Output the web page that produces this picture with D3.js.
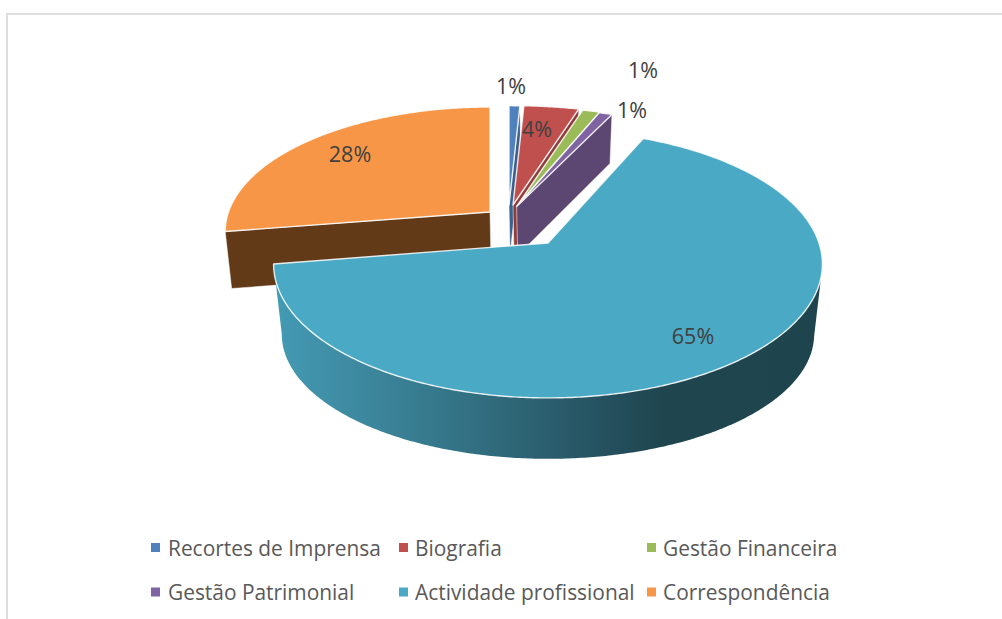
<!DOCTYPE html>
<html><head><meta charset="utf-8">
<script src="https://cdn.jsdelivr.net/npm/d3@7/dist/d3.min.js"></script>
<style>html,body{margin:0;padding:0;background:#fff}svg{display:block}</style>
</head><body><svg id="c" width="1002" height="619"></svg>
<script>
// ---- data
const categories = ["Recortes de Imprensa","Biografia","Gestão Financeira","Gestão Patrimonial","Actividade profissional","Correspondência"];
const shares = [0.74,3.76,1.19,0.89,65.9,27.5];
const percentLabels = ["1%","4%","1%","1%","65%","28%"];
const colors = ["#4f81bd","#c0504d","#9bbb59","#8064a2","#4aa9c4","#f79646"];
const wallColors = ["#3b618e","#8f3b39","#748c43","#5c4672",null,"#633a18"];

// ---- layout / projection settings
const R = 271, K = 130.6, P = 0.157, vanishX = 547;
const wallShrink = [0.97,0.97,0.97,0.97,0.97,0.98];
const apexes = [[509,205],[513,205],[517,206],[516.7,206.5],[548,243],[490,212]];
const scaleX = [1,1,1,1,1,0.965];
const scaleY = [0.88,0.88,0.88,0.88,1,0.93];
const wallDepth = [49,49,49,49,null,57];
const labelAnchors = [[511,85],[537,128],[643,69],[632,109],[693,335],[350,153]];
const legendCols = [[151,168],[399,415],[647,663]];
const legendRows = [547.5,592];

const svg = d3.select("#c");
const color = d3.scaleOrdinal().domain(categories).range(colors);
const arcs = d3.pie().sort(null).startAngle(0).endAngle(2*Math.PI)(shares);
const line = d3.line();

function project(i,t){
  const c = Math.cos(t), s = Math.sin(t), w = 1 + P*c;
  return [apexes[i][0] + R*scaleX[i]*s/w, apexes[i][1] - K*scaleY[i]*c/w];
}
function sink(i,pt,h){ return [vanishX + (pt[0]-vanishX)*wallShrink[i], pt[1]+h]; }
const tealDepth = y => 70 - 0.07*(y-268);
function samples(a,b){ const n = Math.max(2,Math.ceil(Math.abs(b-a)/0.01)); return d3.range(n+1).map(k=>a+(b-a)*k/n); }

// chart frame
svg.append("rect").attr("x",6).attr("y",13).attr("width",996).attr("height",2).attr("fill","#dedede");
svg.append("rect").attr("x",6).attr("y",13).attr("width",2).attr("height",606).attr("fill","#dedede");

// gradient of the big slice's outer wall
const grad = svg.append("defs").append("linearGradient").attr("id","tealWall")
  .attr("gradientUnits","userSpaceOnUse").attr("x1",278).attr("x2",815).attr("y1",0).attr("y2",0);
[[0,"#439ab3"],[0.2,"#3b8399"],[0.4,"#306b7c"],[0.5,"#2b5f6f"],[0.62,"#244f5d"],[0.72,"#1f464f"],[1,"#1e444e"]]
  .forEach(s=>grad.append("stop").attr("offset",s[0]).attr("stop-color",s[1]));

function face(i){
  const d = arcs[i], pts = samples(d.startAngle,d.endAngle).map(t=>project(i,t));
  svg.append("path").attr("d",line([apexes[i],...pts])+"Z")
    .attr("fill",color(categories[i])).attr("stroke","#fff").attr("stroke-opacity",0.85)
    .attr("stroke-width",1.4).attr("stroke-linejoin","round");
}
function radialWall(i,angle){
  const o = project(i,angle), h = wallDepth[i];
  svg.append("path").attr("d",line([apexes[i],o,sink(i,o,h),sink(i,apexes[i],h)])+"Z")
    .attr("fill",wallColors[i]).attr("stroke","#fff").attr("stroke-opacity",0.6).attr("stroke-width",0.8);
}

// back slice
radialWall(5,arcs[5].startAngle);
face(5);
// small slices
[0,1,2,3].forEach(i=>{ radialWall(i,arcs[i].endAngle); face(i); });
// main slice
const tealIdx = 4;
const ts = samples(100*Math.PI/180,arcs[tealIdx].endAngle);
const topEdge = ts.map(t=>project(tealIdx,t));
const bottomEdge = topEdge.map(p=>sink(tealIdx,p,tealDepth(p[1]))).reverse();
svg.append("path").attr("d",line([...topEdge,...bottomEdge])+"Z").attr("fill","url(#tealWall)");
face(tealIdx);

// percent labels
svg.append("g").selectAll("text").data(percentLabels).join("text")
  .attr("x",(d,i)=>labelAnchors[i][0]).attr("y",(d,i)=>labelAnchors[i][1])
  .attr("text-anchor","middle").attr("dominant-baseline","central")
  .attr("font-family","'Open Sans',sans-serif").attr("font-size",21.5).attr("fill","#404040")
  .text(d=>d);

// legend
const leg = svg.append("g").selectAll("g").data(categories).join("g")
  .attr("transform",(d,i)=>`translate(0,${legendRows[Math.floor(i/3)]})`);
leg.append("rect").attr("x",(d,i)=>legendCols[i%3][0]).attr("y",-4.5).attr("width",9).attr("height",9).attr("fill",d=>color(d));
leg.append("text").attr("x",(d,i)=>legendCols[i%3][1]).attr("y",0).attr("dominant-baseline","central")
  .attr("font-family","'Open Sans',sans-serif").attr("font-size",20.9).attr("fill","#595959").text(d=>d);
</script></body></html>
